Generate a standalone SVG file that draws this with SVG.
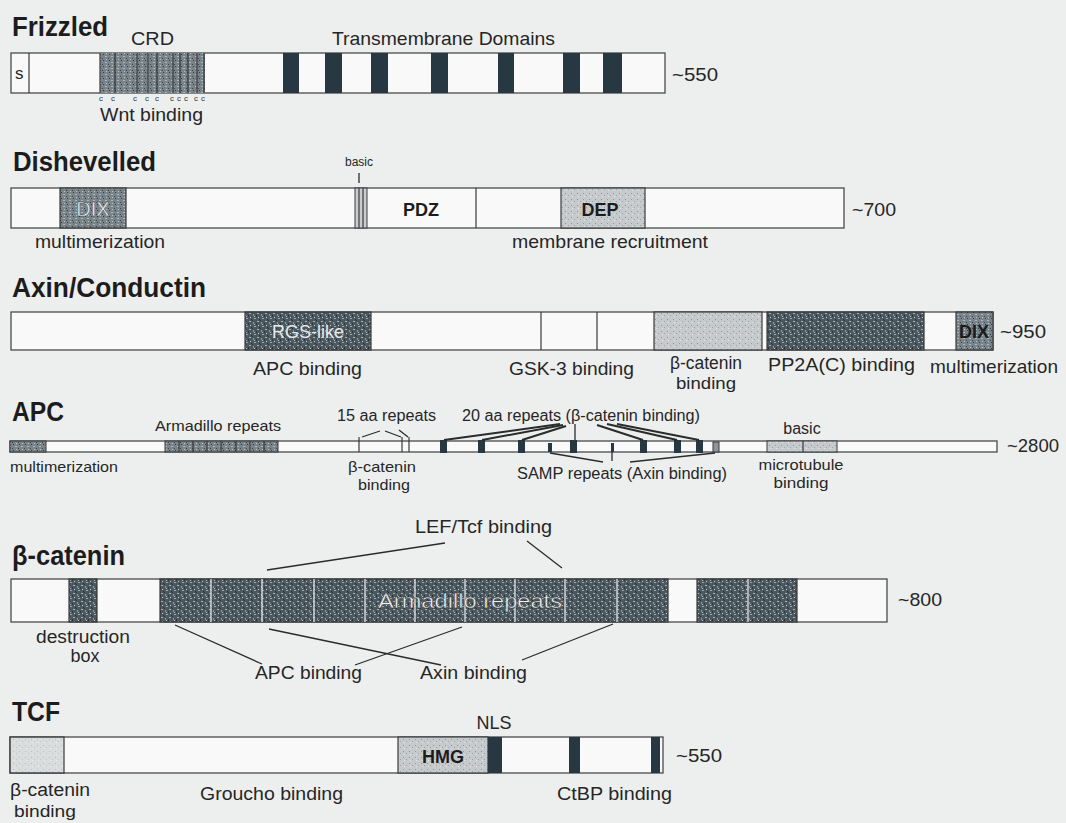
<svg xmlns="http://www.w3.org/2000/svg" width="1066" height="823" viewBox="0 0 1066 823">
<style>
.t{font-family:"Liberation Sans",Arial,sans-serif;font-weight:bold;font-size:27px;fill:#1c1c1c}
.l{font-family:"Liberation Sans",Arial,sans-serif;font-size:19px;fill:#262626}
.s{font-family:"Liberation Sans",Arial,sans-serif;font-size:15px;fill:#262626}
.b{font-family:"Liberation Sans",Arial,sans-serif;font-size:18px;font-weight:bold;fill:#1c1c1c}
.box{fill:#f8f9f8;stroke:#4a4a4a;stroke-width:1.3}
.seg{stroke:#3a3a3a;stroke-width:1.2}
.dk{fill:#283843}
.ln{stroke:#2b2b2b;stroke-width:1.3;fill:none}
.th{stroke:#2b2b2b;stroke-width:2;fill:none}
.c{font-family:"Liberation Sans",Arial,sans-serif;font-size:8px;fill:#333;text-anchor:middle}
.inv{fill:#e9ecee}
</style>
<defs>
<pattern id="pd" width="8" height="8" patternUnits="userSpaceOnUse"><rect width="8" height="8" fill="#4d5960"/><rect x="1" y="1" width="2" height="1" fill="#a3acb0"/><rect x="5" y="2" width="1" height="2" fill="#8e989d"/><rect x="2" y="5" width="1" height="1" fill="#c0c6c8"/><rect x="6" y="6" width="2" height="1" fill="#9aa3a7"/><rect x="4" y="0" width="1" height="1" fill="#27323a"/><rect x="0" y="3" width="1" height="2" fill="#2c373e"/><rect x="3" y="7" width="1" height="1" fill="#27323a"/><rect x="6" y="4" width="1" height="1" fill="#b3babd"/></pattern>
<pattern id="pm" width="6" height="6" patternUnits="userSpaceOnUse"><rect width="6" height="6" fill="#78838a"/><rect x="1" y="0" width="1" height="1" fill="#323d44"/><rect x="3" y="2" width="2" height="1" fill="#b0b7ba"/><rect x="0" y="4" width="1" height="1" fill="#3a454c"/><rect x="4" y="5" width="1" height="1" fill="#bcc2c4"/></pattern>
<pattern id="pl" width="6" height="6" patternUnits="userSpaceOnUse"><rect width="6" height="6" fill="#c6cacc"/><rect x="1" y="1" width="1" height="1" fill="#8f979b"/><rect x="4" y="3" width="1" height="1" fill="#9ca3a6"/><rect x="2" y="4" width="1" height="1" fill="#e4e7e8"/></pattern>
</defs>
<rect width="1066" height="823" fill="#edefef"/>

<g id="frizzled">
<text class="t" x="12" y="36" textLength="96" lengthAdjust="spacingAndGlyphs">Frizzled</text>
<text class="l" x="131" y="45" textLength="43" lengthAdjust="spacingAndGlyphs">CRD</text>
<text class="l" x="332" y="45" textLength="223" lengthAdjust="spacingAndGlyphs">Transmembrane Domains</text>
<rect class="box" x="11" y="53" width="654" height="40"/>
<line class="seg" x1="29" y1="53" x2="29" y2="93"/>
<text class="l" x="15" y="79" style="font-size:17px">s</text>
<rect x="100" y="53" width="105" height="40" fill="url(#pm)"/>
<g class="seg">
<line x1="100" y1="53" x2="100" y2="93"/><line x1="115" y1="53" x2="115" y2="93"/><line x1="137" y1="53" x2="137" y2="93"/><line x1="148" y1="53" x2="148" y2="93"/><line x1="157" y1="53" x2="157" y2="93"/><line x1="173" y1="53" x2="173" y2="93"/><line x1="180" y1="53" x2="180" y2="93"/><line x1="188" y1="53" x2="188" y2="93"/><line x1="197" y1="53" x2="197" y2="93"/><line x1="204" y1="53" x2="204" y2="93"/>
</g>
<text class="c" x="101" y="101">c</text><text class="c" x="113" y="101">c</text><text class="c" x="135" y="101">c</text><text class="c" x="147" y="101">c</text><text class="c" x="157" y="101">c</text><text class="c" x="172" y="101">c</text><text class="c" x="179" y="101">c</text><text class="c" x="186" y="101">c</text><text class="c" x="196" y="101">c</text><text class="c" x="203" y="101">c</text>
<text class="l" x="100" y="121" textLength="103" lengthAdjust="spacingAndGlyphs">Wnt binding</text>
<rect class="dk" x="283" y="53" width="16" height="40"/><rect class="dk" x="325" y="53" width="17" height="40"/><rect class="dk" x="371" y="53" width="17" height="40"/><rect class="dk" x="431" y="53" width="17" height="40"/><rect class="dk" x="498" y="53" width="16" height="40"/><rect class="dk" x="563" y="53" width="17" height="40"/><rect class="dk" x="603" y="53" width="19" height="40"/>
<text class="l" x="672" y="81" textLength="46" lengthAdjust="spacingAndGlyphs">~550</text>
</g>

<g id="dishevelled">
<text class="t" x="13" y="171" textLength="143" lengthAdjust="spacingAndGlyphs">Dishevelled</text>
<text class="s" x="359" y="166" text-anchor="middle" style="font-size:12px">basic</text>
<rect class="box" x="11" y="188" width="833" height="40"/>
<rect x="60" y="188" width="66" height="40" fill="url(#pm)" stroke="#3a3a3a" stroke-width="1.2"/>
<text class="l inv" x="93" y="216" text-anchor="middle" style="font-size:20px;fill:#eef0f1;stroke:#2a2a2a;stroke-width:0.35px">DIX</text>
<rect x="355" y="188" width="12" height="40" fill="#c9cdcf" stroke="#3a3a3a" stroke-width="1"/>
<line class="seg" x1="359" y1="188" x2="359" y2="228"/><line class="seg" x1="363" y1="188" x2="363" y2="228"/>
<line class="seg" x1="476" y1="188" x2="476" y2="228"/>
<text class="b" x="421" y="216" text-anchor="middle">PDZ</text>
<rect x="561" y="188" width="84" height="40" fill="url(#pl)" stroke="#3a3a3a" stroke-width="1.2"/>
<text class="b" x="600" y="216" text-anchor="middle">DEP</text>
<text class="l" x="35" y="248" textLength="130" lengthAdjust="spacingAndGlyphs">multimerization</text>
<text class="l" x="512" y="248" textLength="196" lengthAdjust="spacingAndGlyphs">membrane recruitment</text>
<text class="l" x="852" y="216" textLength="44" lengthAdjust="spacingAndGlyphs">~700</text>
</g>

<g id="axin">
<text class="t" x="12" y="297" textLength="194" lengthAdjust="spacingAndGlyphs">Axin/Conductin</text>
<rect class="box" x="11" y="312" width="982" height="38"/>
<rect x="245" y="312" width="126" height="38" fill="url(#pd)" stroke="#3a3a3a" stroke-width="1.2"/>
<text class="l" x="308" y="338" text-anchor="middle" style="font-size:18px;fill:#e6e9ea">RGS-like</text>
<line class="seg" x1="541" y1="312" x2="541" y2="350"/><line class="seg" x1="597" y1="312" x2="597" y2="350"/>
<rect x="654" y="312" width="108" height="38" fill="url(#pl)" stroke="#3a3a3a" stroke-width="1.2"/>
<rect x="767" y="312" width="157" height="38" fill="url(#pd)" stroke="#3a3a3a" stroke-width="1.2"/>
<rect x="956" y="312" width="37" height="38" fill="url(#pm)" stroke="#3a3a3a" stroke-width="1.2"/>
<text class="b" x="974" y="338" text-anchor="middle">DIX</text>
<text class="l" x="1000" y="338" textLength="46" lengthAdjust="spacingAndGlyphs">~950</text>
<text class="l" x="253" y="375" textLength="109" lengthAdjust="spacingAndGlyphs">APC binding</text>
<text class="l" x="509" y="375" textLength="125" lengthAdjust="spacingAndGlyphs">GSK-3 binding</text>
<text class="l" x="706" y="369" text-anchor="middle" style="font-size:18px" textLength="72" lengthAdjust="spacingAndGlyphs">β-catenin</text>
<text class="l" x="706" y="389" text-anchor="middle" style="font-size:17px" textLength="60" lengthAdjust="spacingAndGlyphs">binding</text>
<text class="l" x="768" y="371" textLength="147" lengthAdjust="spacingAndGlyphs">PP2A(C) binding</text>
<text class="l" x="930" y="373" textLength="128" lengthAdjust="spacingAndGlyphs">multimerization</text>
</g>

<g id="apc">
<text class="t" x="12" y="421" textLength="52" lengthAdjust="spacingAndGlyphs">APC</text>
<text class="s" x="155" y="431" textLength="126" lengthAdjust="spacingAndGlyphs">Armadillo repeats</text>
<text class="s" x="337" y="421" style="font-size:16px" textLength="99" lengthAdjust="spacingAndGlyphs">15 aa repeats</text>
<text class="s" x="462" y="421" style="font-size:16px" textLength="238" lengthAdjust="spacingAndGlyphs">20 aa repeats (β-catenin binding)</text>
<text class="s" x="802" y="434" style="font-size:16px" text-anchor="middle">basic</text>
<rect class="box" x="10" y="441" width="987" height="11"/>
<rect x="10" y="441" width="36" height="11" fill="url(#pm)" stroke="#3a3a3a" stroke-width="1"/>
<rect x="165" y="441" width="113" height="11" fill="url(#pm)" stroke="#3a3a3a" stroke-width="1"/>
<g class="seg"><line x1="179" y1="441" x2="179" y2="452"/><line x1="193" y1="441" x2="193" y2="452"/><line x1="207" y1="441" x2="207" y2="452"/><line x1="221" y1="441" x2="221" y2="452"/><line x1="236" y1="441" x2="236" y2="452"/><line x1="250" y1="441" x2="250" y2="452"/><line x1="264" y1="441" x2="264" y2="452"/></g>
<rect x="767" y="441" width="70" height="11" fill="url(#pl)" stroke="#3a3a3a" stroke-width="1"/>
<line class="seg" x1="803" y1="441" x2="803" y2="452"/>
<line class="seg" x1="359" y1="437" x2="359" y2="452"/><line class="seg" x1="402" y1="437" x2="402" y2="452"/><line class="seg" x1="409" y1="437" x2="409" y2="452"/>
<rect class="dk" x="440" y="440" width="7" height="13"/><rect class="dk" x="478" y="440" width="7" height="13"/><rect class="dk" x="518" y="440" width="7" height="13"/><rect class="dk" x="570" y="440" width="7" height="13"/><rect class="dk" x="640" y="440" width="7" height="13"/><rect class="dk" x="674" y="440" width="7" height="13"/><rect class="dk" x="696" y="440" width="7" height="13"/>
<rect class="dk" x="548" y="443" width="4" height="9"/><rect class="dk" x="611" y="443" width="3" height="9"/>
<rect x="713" y="442" width="6" height="10" fill="#8d969b" stroke="#3a3a3a" stroke-width="1"/>
<text class="s" x="10" y="472" textLength="108" lengthAdjust="spacingAndGlyphs">multimerization</text>
<text class="s" x="382" y="472" text-anchor="middle" textLength="68" lengthAdjust="spacingAndGlyphs">β-catenin</text>
<text class="s" x="384" y="490" text-anchor="middle" textLength="52" lengthAdjust="spacingAndGlyphs">binding</text>
<text class="s" x="517" y="479" style="font-size:16px" textLength="210" lengthAdjust="spacingAndGlyphs">SAMP repeats (Axin binding)</text>
<text class="s" x="801" y="470" text-anchor="middle" textLength="85" lengthAdjust="spacingAndGlyphs">microtubule</text>
<text class="s" x="801" y="488" text-anchor="middle" textLength="55" lengthAdjust="spacingAndGlyphs">binding</text>
<text class="l" x="1007" y="452" textLength="52" lengthAdjust="spacingAndGlyphs">~2800</text>
</g>

<g id="beta-catenin">
<text class="t" x="12" y="565" textLength="113" lengthAdjust="spacingAndGlyphs">β-catenin</text>
<text class="l" x="415" y="533" textLength="137" lengthAdjust="spacingAndGlyphs">LEF/Tcf binding</text>
<rect class="box" x="11" y="579" width="876" height="43"/>
<rect x="69" y="579" width="28" height="43" fill="url(#pd)" stroke="#3a3a3a" stroke-width="1.2"/>
<rect x="160" y="579" width="508" height="43" fill="url(#pd)" stroke="#3a3a3a" stroke-width="1.2"/>
<rect x="697" y="579" width="100" height="43" fill="url(#pd)" stroke="#3a3a3a" stroke-width="1.2"/>
<g stroke="#e2e5e6" stroke-width="1.3">
<line x1="211" y1="579" x2="211" y2="622"/><line x1="262" y1="579" x2="262" y2="622"/><line x1="314" y1="579" x2="314" y2="622"/><line x1="365" y1="579" x2="365" y2="622"/><line x1="415" y1="579" x2="415" y2="622"/><line x1="465" y1="579" x2="465" y2="622"/><line x1="515" y1="579" x2="515" y2="622"/><line x1="565" y1="579" x2="565" y2="622"/><line x1="617" y1="579" x2="617" y2="622"/><line x1="748" y1="579" x2="748" y2="622"/>
</g>
<text class="l" x="378" y="608" style="font-size:21px;fill:#eef0f1;stroke:#2a2a2a;stroke-width:0.4px" textLength="184" lengthAdjust="spacingAndGlyphs">Armadillo repeats</text>
<text class="l" x="898" y="606" textLength="44" lengthAdjust="spacingAndGlyphs">~800</text>
<text class="l" x="83" y="643" text-anchor="middle" style="font-size:18px" textLength="94" lengthAdjust="spacingAndGlyphs">destruction</text>
<text class="l" x="85" y="662" text-anchor="middle" style="font-size:18px">box</text>
<text class="l" x="255" y="679" textLength="107" lengthAdjust="spacingAndGlyphs">APC binding</text>
<text class="l" x="420" y="679" textLength="107" lengthAdjust="spacingAndGlyphs">Axin binding</text>
</g>

<g id="tcf">
<text class="t" x="12" y="721" textLength="48" lengthAdjust="spacingAndGlyphs">TCF</text>
<text class="l" x="494" y="729" text-anchor="middle" style="font-size:18px">NLS</text>
<rect class="box" x="10" y="737" width="653" height="36"/>
<rect x="10" y="737" width="54" height="36" fill="url(#pl)" fill-opacity="0.6" stroke="#3a3a3a" stroke-width="1.2"/>
<rect x="398" y="737" width="90" height="36" fill="url(#pl)" stroke="#3a3a3a" stroke-width="1.2"/>
<text class="b" x="443" y="763" text-anchor="middle">HMG</text>
<rect class="dk" x="488" y="737" width="14" height="36"/><rect class="dk" x="569" y="737" width="11" height="36"/><rect class="dk" x="651" y="737" width="9" height="36"/>
<text class="l" x="676" y="762" textLength="46" lengthAdjust="spacingAndGlyphs">~550</text>
<text class="l" x="10" y="796" style="font-size:18px" textLength="80" lengthAdjust="spacingAndGlyphs">β-catenin</text>
<text class="l" x="14" y="817" style="font-size:17px" textLength="62" lengthAdjust="spacingAndGlyphs">binding</text>
<text class="l" x="200" y="800" textLength="143" lengthAdjust="spacingAndGlyphs">Groucho binding</text>
<text class="l" x="557" y="800" textLength="115" lengthAdjust="spacingAndGlyphs">CtBP binding</text>
</g>

<g id="connectors">
<line class="ln" x1="359" y1="173" x2="359" y2="183"/>
<line class="ln" x1="362" y1="437" x2="380" y2="431"/>
<line class="ln" x1="385" y1="431" x2="401" y2="437"/>
<line class="ln" x1="399" y1="430" x2="408" y2="437"/>
<line class="th" x1="444" y1="440" x2="560" y2="424"/>
<line class="th" x1="482" y1="440" x2="563" y2="425"/>
<line class="th" x1="522" y1="440" x2="566" y2="426"/>
<line class="ln" x1="575" y1="424" x2="575" y2="440"/>
<line class="th" x1="597" y1="425" x2="643" y2="440"/>
<line class="th" x1="607" y1="424" x2="677" y2="440"/>
<line class="th" x1="617" y1="424" x2="699" y2="440"/>
<line class="ln" x1="550" y1="453" x2="603" y2="462"/>
<line class="ln" x1="612" y1="452" x2="612" y2="461"/>
<line class="ln" x1="715" y1="453" x2="630" y2="462"/>
<line class="ln" x1="267" y1="570" x2="445" y2="543"/>
<line class="ln" x1="527" y1="541" x2="562" y2="568"/>
<line class="ln" x1="175" y1="625" x2="262" y2="664"/>
<line class="ln" x1="269" y1="629" x2="441" y2="665"/>
<line class="ln" x1="462" y1="627" x2="355" y2="665"/>
<line class="ln" x1="613" y1="624" x2="522" y2="660"/>
</g>
</svg>
